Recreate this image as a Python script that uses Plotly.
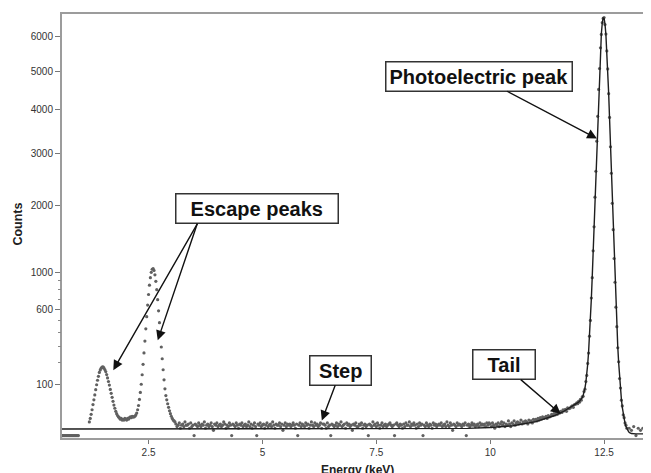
import numpy as np
import plotly.graph_objects as go

# ---------------- data (counts per channel) ----------------
# channel grids: start energy (keV) and channel width (keV)
zero_start, zero_step = 0.60, 0.02
counts_zero = [0, 0, 0, 0, 0, 0, 0, 0, 0, 0, 0, 0, 0, 0, 0, 0, 0, 0, 0]

esc_start, esc_step = 1.20, 0.02
counts_escape = [7, 11, 17, 25, 36, 48, 62, 79, 97, 115,
                 132, 150, 162, 171, 176, 178, 172, 164, 154, 140,
                 125, 110, 96, 80, 67, 55, 44, 35, 28, 22,
                 18, 15, 13, 12, 10, 11, 9, 10, 9, 11,
                 10, 9, 11, 10, 12, 13, 12, 14, 13, 13,
                 14, 16, 19, 25, 34, 49, 70, 99, 139, 191,
                 257, 336, 429, 532, 641, 749, 851, 938, 1003, 1041,
                 1050, 1026, 973, 896, 801, 695, 586, 480, 381, 295,
                 222, 163, 117, 82, 60, 48, 38, 30, 23, 18,
                 14, 11, 9, 8, 7]

flat_start, flat_step = 3.10, 0.025
counts_flat = [5, 3, 4, 6, 2, 4, 5, 3, 7, 4,
               4, 5, 2, 6, 3, 4, 0, 5, 4, 3,
               6, 4, 3, 5, 4, 7, 2, 4, 5, 3,
               4, 6, 3, 1, 5, 4, 6, 3, 4, 5,
               3, 4, 7, 5, 2, 4, 3, 6, 4, 0,
               5, 4, 3, 6, 4, 2, 5, 4, 6, 3,
               4, 5, 3, 4, 7, 3, 5, 2, 4, 6,
               3, 0, 5, 4, 6, 3, 4, 5, 2, 4,
               6, 3, 4, 5, 3, 7, 4, 2, 5, 4,
               4, 6, 3, 5, 1, 4, 6, 3, 5, 4,
               5, 3, 4, 6, 4, 2, 5, 0, 4, 6,
               3, 5, 4, 3, 6, 4, 5, 2, 4, 7,
               4, 3, 6, 4, 5, 3, 4, 6, 2, 5,
               5, 4, 2, 6, 3, 4, 0, 5, 4, 3,
               4, 6, 3, 5, 4, 7, 3, 4, 5, 2,
               6, 4, 5, 3, 4, 1, 5, 4, 6, 3,
               3, 5, 4, 6, 2, 4, 5, 3, 4, 0,
               5, 4, 3, 7, 4, 5, 3, 6, 4, 2,
               4, 6, 3, 4, 5, 3, 4, 5, 6, 4,
               3, 4, 0, 5, 6, 4, 3, 5, 4, 2,
               5, 3, 6, 4, 4, 7, 3, 5, 4, 6,
               4, 2, 5, 3, 6, 4, 5, 0, 4, 3,
               6, 4, 3, 5, 4, 2, 6, 4, 5, 3,
               4, 5, 4, 6, 3, 4, 5, 3, 7, 4,
               3, 6, 4, 1, 5, 4, 3, 6, 4, 5,
               4, 3, 5, 4, 6, 0, 4, 5, 3, 4,
               6, 4, 5, 3, 4, 5, 3, 6, 4, 5,
               4, 5, 3, 6, 4, 6]

tail_start, tail_step = 10.00, 0.025
counts_tail = [5, 3, 6, 4, 2, 5, 4, 6, 3, 5,
               7, 4, 6, 3, 5, 4, 8, 5, 3, 6,
               5, 8, 4, 6, 7, 5, 6, 9, 5, 7,
               6, 8, 7, 5, 9, 7, 8, 6, 10, 8,
               10, 8, 11, 9, 12, 10, 13, 11, 12, 14,
               11, 15, 13, 14, 17, 15, 18, 16, 19, 17,
               21, 19, 22, 20, 25, 23, 26, 22, 29, 27,
               28, 31, 33, 30, 36, 37]

peak_start, peak_step = 11.90, 0.02
counts_peak = [40, 38, 44, 42, 49, 47, 56, 58, 73, 81,
               110, 136, 196, 256, 372, 499, 712, 938, 1284, 1640,
               2140, 2630, 3262, 3838, 4512, 5070, 5660, 6060, 6420, 6550,
               6580, 6360, 6070, 5570, 5060, 4400, 3810, 3140, 2590, 2030,
               1595, 1180, 885, 620, 446, 290, 205, 122, 85, 47,
               33, 16, 12, 6, 4, 2]

post_start, post_step = 13.05, 0.05
counts_post = [2, 1, 3, 0, 2, 1, 2, 3, 0, 1, 2]

# fitted model (step background + tail + Gaussian)
fit_energy = [0.58, 9.0, 9.5, 10.0, 10.5, 11.0, 11.2, 11.4, 11.6, 11.8,
              11.90, 11.92, 11.94, 11.96, 11.98, 12.00, 12.02, 12.04, 12.06, 12.08,
              12.10, 12.12, 12.14, 12.16, 12.18, 12.20, 12.22, 12.24, 12.26, 12.28,
              12.30, 12.32, 12.34, 12.36, 12.38, 12.40, 12.42, 12.44, 12.46, 12.48,
              12.50, 12.52, 12.54, 12.56, 12.58, 12.60, 12.62, 12.64, 12.66, 12.68,
              12.70, 12.72, 12.74, 12.76, 12.78, 12.80, 12.82, 12.84, 12.86, 12.88,
              12.90, 12.92, 12.94, 12.96, 12.98, 13.00, 13.02, 13.04, 13.06,
              13.10, 13.20, 13.56]
fit_counts = [1.6, 1.7, 1.9, 2.4, 3.6, 7.3, 10.3, 14.7, 21.3, 31.5,
              38.4, 40.1, 41.9, 43.9, 46.5, 49.6, 54.1, 60.4, 69.9, 84.3,
              106.5, 140, 190, 263, 365, 508, 700, 950, 1269, 1659,
              2123, 2654, 3240, 3862, 4490, 5095, 5636, 6081, 6401, 6568,
              6558, 6381, 6051, 5595, 5041, 4428, 3791, 3165, 2576, 2044,
              1582, 1193, 876, 628, 439, 298, 199, 128, 81, 50,
              30, 17.5, 10, 5.6, 3.0, 1.7, 0.9, 0.5, 0.3,
              0.15, 0.1, 0.1]

y_tick_values = [100, 600, 1000, 2000, 3000, 4000, 5000, 6000]
y_tick_labels = ["100", "600", "1000", "2000", "3000", "4000", "5000", "6000"]
y_minor_values = [200, 300, 400, 500, 700, 800, 900]
x_tick_values = [2.5, 5, 7.5, 10, 12.5]
x_tick_labels = ["2.5", "5", "7.5", "10", "12.5"]

# ---------------- build ----------------
def channels(start, step, counts):
    return list(np.round(start + step * np.arange(len(counts)), 3))

segments = [(zero_start, zero_step, counts_zero),
            (esc_start, esc_step, counts_escape),
            (flat_start, flat_step, counts_flat),
            (tail_start, tail_step, counts_tail),
            (peak_start, peak_step, counts_peak),
            (post_start, post_step, counts_post)]
data_E, data_C = [], []
for s, st, c in segments:
    data_E += channels(s, st, c)
    data_C += list(c)

sq = np.sqrt  # square-root counts scale
Y_RANGE = [-0.48, 81.8]
X_RANGE = [0.60, 13.53]

fig = go.Figure()
fig.add_trace(go.Scatter(x=data_E, y=sq(np.array(data_C, float)), mode="markers",
                         marker=dict(size=3.2, color="#606060", line=dict(width=0)),
                         showlegend=False, hoverinfo="skip"))
fig.add_trace(go.Scatter(x=fit_energy, y=sq(np.array(fit_counts, float)), mode="lines",
                         line=dict(color="#1e1e1e", width=1.4),
                         showlegend=False, hoverinfo="skip"))
# carrier for the minor-tick axis
fig.add_trace(go.Scatter(x=[X_RANGE[0]], y=[0], yaxis="y2", mode="markers",
                         marker=dict(size=0.1, opacity=0), showlegend=False, hoverinfo="skip"))

tickfont = dict(family="Liberation Sans, Arial, sans-serif", size=10, color="#333333")
# the page body adds an 8px offset; margins compensate so the plot area sits at
# x 62..651, y 12..438 in the window
fig.update_layout(
    width=651, height=473,
    margin=dict(l=54, r=8, t=4, b=43),
    paper_bgcolor="white", plot_bgcolor="white",
    xaxis=dict(range=X_RANGE, tickvals=x_tick_values, ticktext=x_tick_labels,
               showgrid=False, zeroline=False, showline=True, linecolor="#9c9c9c",
               linewidth=2, mirror=True, ticks="outside", ticklen=4, tickcolor="#777",
               tickwidth=1, tickfont=tickfont),
    yaxis=dict(range=Y_RANGE, tickvals=list(sq(np.array(y_tick_values, float))),
               ticktext=y_tick_labels, showgrid=False, zeroline=False, showline=True,
               linecolor="#9c9c9c", linewidth=2, ticks="outside", ticklen=5,
               tickcolor="#777", tickwidth=1, tickfont=tickfont),
    yaxis2=dict(range=Y_RANGE, overlaying="y", side="left", anchor="x",
                tickvals=list(sq(np.array(y_minor_values, float))), ticks="outside",
                ticklen=3, tickcolor="#888", tickwidth=1, showticklabels=False,
                showgrid=False, zeroline=False, showline=False),
)

NB = "\u00a0"
box_font = dict(family="Liberation Sans, Arial, sans-serif", size=20, color="#111111")
box_style = dict(font=box_font, bgcolor="white", bordercolor="#333333", borderwidth=1.5,
                 borderpad=3, arrowcolor="#111111", arrowwidth=1.4, arrowhead=2, arrowsize=1.4)
arrow_style = dict(arrowcolor="#111111", arrowwidth=1.4, arrowhead=2, arrowsize=1.4)

ann = []
# Photoelectric peak
ann.append(dict(x=12.343, y=57.64, xref="x", yref="y", ax=-118, ay=-62,
                text="<b>Photoelectric peak</b>", showarrow=True, **box_style))
# Escape peaks box and two arrows
ann.append(dict(x=4.885, y=44.14, xref="x", yref="y",
                text="<b>" + NB * 2 + "Escape peaks" + NB * 2 + "</b>",
                showarrow=False, font=box_font, bgcolor="white", bordercolor="#333333",
                borderwidth=1.5, borderpad=3))
ann.append(dict(x=1.726, y=12.69, xref="x", yref="y", ax=85, ay=-148, text="",
                showarrow=True, **arrow_style))
ann.append(dict(x=2.702, y=18.48, xref="x", yref="y", ax=40, ay=-118, text="",
                showarrow=True, **arrow_style))
# Step
ann.append(dict(x=6.304, y=2.913, xref="x", yref="y", ax=19, ay=-50,
                text="<b>" + NB + "Step" + NB + "</b>", showarrow=True, **box_style))
# Tail
ann.append(dict(x=11.546, y=4.205, xref="x", yref="y", ax=-57, ay=-49,
                text="<b>" + NB * 2 + "Tail" + NB * 2 + "</b>", showarrow=True, **box_style))
# axis titles
ann.append(dict(x=-0.0752, y=0.505, xref="paper", yref="paper", text="<b>Counts</b>",
                textangle=-90, showarrow=False, xanchor="center", yanchor="middle",
                font=dict(family="Liberation Sans, Arial, sans-serif", size=12.5, color="#222")))
ann.append(dict(x=0.5025, y=-0.075, xref="paper", yref="paper", text="<b>Energy (keV)</b>",
                showarrow=False, xanchor="center", yanchor="middle",
                font=dict(family="Liberation Sans, Arial, sans-serif", size=12, color="#222")))
fig.update_layout(annotations=ann)

fig.write_html("out.html")
